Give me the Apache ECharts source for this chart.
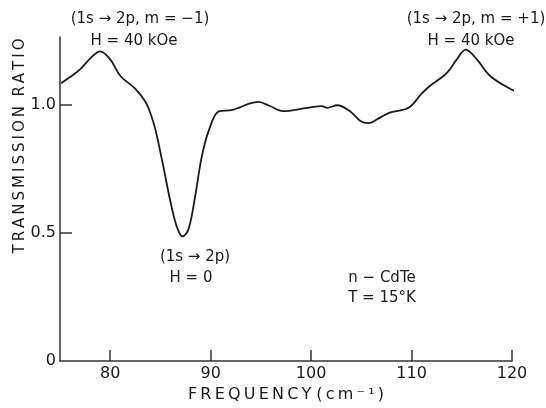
<!DOCTYPE html>
<html>
<head>
<meta charset="utf-8">
<script src="https://cdn.jsdelivr.net/npm/echarts@6/dist/echarts.min.js"></script>
<style>
  html, body { margin: 0; padding: 0; background: #fff; }
  #chart { width: 546px; height: 408px; }
</style>
</head>
<body>
<div id="chart"></div>
<script>
// values (frequency in cm^-1, transmission ratio)
const freq = [75.1, 76.0, 77.0, 78.0, 79.0, 80.0, 81.0, 82.5, 83.5, 84.0, 84.5, 85.3, 85.95, 86.6, 87.2, 87.8,
  88.45, 89.1, 89.8, 90.8, 92.1, 92.9, 93.9, 94.75, 95.9, 97.2, 99.6, 101.1, 101.6, 102.6, 103.9, 104.9,
  105.7, 106.9, 107.9, 109.7, 111.0, 111.85, 112.85, 113.7, 114.5, 115.4, 116.5, 117.8, 119.5, 121.6]
const ratio = [1.083, 1.107, 1.137, 1.179, 1.207, 1.176, 1.112, 1.061, 1.011, 0.966, 0.902, 0.756, 0.630, 0.527, 0.486, 0.515,
  0.641, 0.794, 0.897, 0.973, 0.978, 0.989, 1.004, 1.010, 0.994, 0.974, 0.987, 0.994, 0.987, 0.997, 0.973, 0.936,
  0.927, 0.950, 0.969, 0.987, 1.042, 1.073, 1.101, 1.131, 1.176, 1.214, 1.176, 1.112, 1.068, 1.027]
const xTicks = [80, 90, 100, 110, 120]
const yTicks = [0, 0.5, 1.0]

const font = 'DejaVu Sans'
const ink = '#1a1a1a'
const ts = '\u2009' // thin space, for the wide lettering of the axis titles

const spread = (s) => s.split('').join(ts)

const chart = echarts.init(document.getElementById('chart'))

const note = (text, x, y) => ({
  type: 'text',
  x: x,
  y: y,
  style: {
    text: text,
    fill: ink,
    font: '15px ' + font,
    align: 'center',
    verticalAlign: 'middle'
  }
})

const option = {
  animation: false,
  grid: {
    left: 60,
    right: 34,
    top: 37,
    bottom: 40
  },
  xAxis: {
    type: 'value',
    min: 75,
    max: 120,
    name: spread('FREQUENCY') + ' ' + spread('(cm⁻¹)'),
    nameLocation: 'middle',
    nameGap: 22,
    nameTextStyle: { color: ink, fontFamily: font, fontSize: 16 },
    splitLine: { show: false },
    axisLine: { lineStyle: { color: '#333', width: 1.5 } },
    axisTick: {
      inside: true,
      length: 11,
      customValues: xTicks,
      lineStyle: { color: '#333', width: 1.5 }
    },
    axisLabel: {
      customValues: xTicks,
      margin: 5,
      color: ink,
      fontFamily: font,
      fontSize: 16
    }
  },
  yAxis: {
    type: 'value',
    min: 0,
    max: 1.263,
    splitLine: { show: false },
    axisLine: { show: true, lineStyle: { color: '#333', width: 1.5 } },
    axisTick: {
      inside: true,
      length: 12,
      customValues: [0.5, 1.0],
      lineStyle: { color: '#333', width: 1.5 }
    },
    axisLabel: {
      customValues: yTicks,
      margin: 4,
      color: ink,
      fontFamily: font,
      fontSize: 16,
      formatter: (v) => v === 0 ? '0' : v.toFixed(1)
    }
  },
  series: [
    {
      type: 'line',
      data: freq.map((f, i) => [f, ratio[i]]),
      smooth: 0.35,
      showSymbol: false,
      clip: false,
      lineStyle: { color: ink, width: 1.8 }
    }
  ],
  graphic: [
    {
      type: 'text',
      x: 20,
      y: 146,
      rotation: Math.PI / 2,
      style: {
        text: spread('TRANSMISSION') + '  ' + spread('RATIO'),
        fill: ink,
        font: '15px ' + font,
        align: 'center',
        verticalAlign: 'middle'
      }
    },
    note('(1s → 2p, m = −1)', 140, 19),
    note('H = 40 kOe', 134, 41),
    note('(1s → 2p, m = +1)', 476, 19),
    note('H = 40 kOe', 471, 41),
    note('(1s → 2p)', 195, 257),
    note('H = 0', 191, 278),
    note('n − CdTe', 382, 278),
    note('T = 15°K', 382, 298)
  ]
}

chart.setOption(option)
</script>
</body>
</html>
